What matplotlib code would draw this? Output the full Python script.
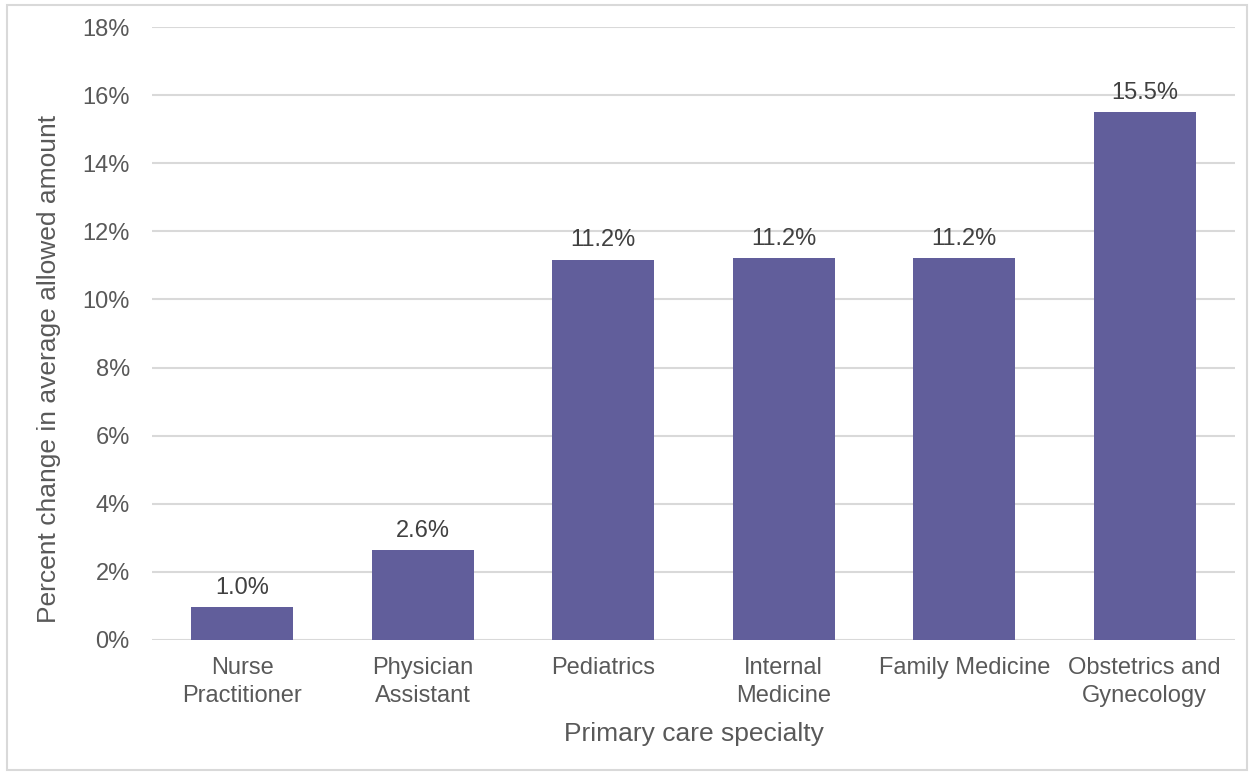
import numpy as np
import matplotlib.pyplot as plt
from matplotlib.patches import Rectangle
from matplotlib.ticker import FuncFormatter

plt.rcParams['font.family'] = ['Liberation Sans', 'DejaVu Sans']

# data
specialties = ['Nurse\nPractitioner', 'Physician\nAssistant', 'Pediatrics',
               'Internal\nMedicine', 'Family Medicine', 'Obstetrics and\nGynecology']
pct_change = [0.97, 2.64, 11.17, 11.22, 11.22, 15.5]
bar_labels = ['1.0%', '2.6%', '11.2%', '11.2%', '11.2%', '15.5%']

BAR_COLOR = '#615E9B'
TEXT = '#595959'

fig = plt.figure(figsize=(12.52, 7.75), dpi=100)
ax = fig.add_axes([152 / 1252, 1 - 640 / 775, (1235 - 152) / 1252, (640 - 27) / 775])

x = np.arange(len(specialties))
ax.bar(x, pct_change, width=0.565, color=BAR_COLOR, zorder=3)
for xi, v, lab in zip(x, pct_change, bar_labels):
    ax.annotate(lab, (xi, v), xytext=(0, 6), textcoords='offset points',
                ha='center', va='bottom', fontsize=17, color='#404040')

ax.set_xlim(-0.5, len(specialties) - 0.5)
ax.set_ylim(0, 18)
ax.set_yticks(np.arange(0, 19, 2))
ax.yaxis.set_major_formatter(FuncFormatter(lambda v, p: f'{v:.0f}%'))
ax.set_xticks(x)
ax.set_xticklabels(specialties, fontsize=17, color=TEXT, linespacing=1.35)
ax.tick_params(axis='y', labelsize=17, labelcolor=TEXT, length=0, pad=16)
ax.tick_params(axis='x', length=0, pad=12)
ax.grid(axis='y', color='#D9D9D9', linewidth=1.5, zorder=0)
for s in ax.spines.values():
    s.set_visible(False)

ax.set_xlabel('Primary care specialty', fontsize=19, color=TEXT, labelpad=11)
ax.set_ylabel('Percent change in average allowed amount', fontsize=19, color=TEXT, labelpad=14)
ax.yaxis.set_label_coords(-0.084, 0.442)

fig.patches.append(Rectangle((7 / 1252, 1 - 770 / 775), 1240 / 1252, 765 / 775,
                             transform=fig.transFigure, fill=False,
                             edgecolor='#D9D9D9', linewidth=1.5))

fig.savefig('out.png', dpi=100)
